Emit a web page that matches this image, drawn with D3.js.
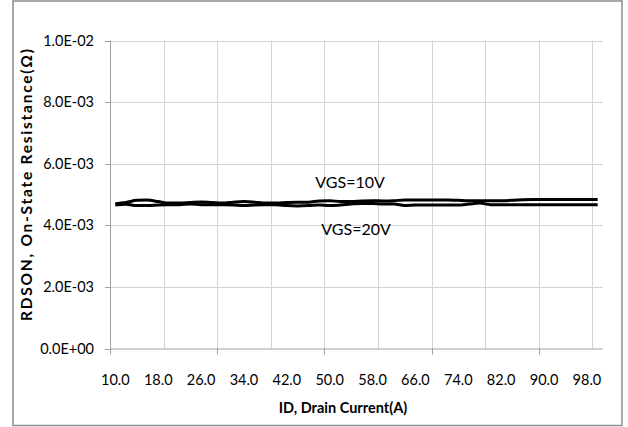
<!DOCTYPE html>
<html>
<head>
<meta charset="utf-8">
<script src="https://cdn.jsdelivr.net/npm/d3@7"></script>
<style>
  html, body { margin: 0; padding: 0; background: #fff; }
  svg { display: block; }
  text { font-family: Lato, "Open Sans", sans-serif; fill: #000; }
</style>
</head>
<body>
<svg id="chart" width="628" height="427"></svg>
<script>
// ---- data ----
const currents = [10,12,14,16,18,20,22,24,26,28,30,32,34,36,38,40,42,44,46,48,50,52,54,56,58,60,62,64,66,68,70,72,74,76,78,80,82,84,86,88,90,92,94,96,98,100];
const rdsonVgs10 = [4.70e-3,4.74e-3,4.81e-3,4.82e-3,4.77e-3,4.72e-3,4.72e-3,4.74e-3,4.76e-3,4.74e-3,
                    4.72e-3,4.75e-3,4.77e-3,4.75e-3,4.72e-3,4.72e-3,4.74e-3,4.75e-3,4.75e-3,4.79e-3,
                    4.80e-3,4.77e-3,4.77e-3,4.79e-3,4.80e-3,4.79e-3,4.80e-3,4.82e-3,4.82e-3,4.82e-3,
                    4.82e-3,4.82e-3,4.81e-3,4.80e-3,4.80e-3,4.80e-3,4.80e-3,4.81e-3,4.83e-3,4.84e-3,
                    4.84e-3,4.84e-3,4.84e-3,4.84e-3,4.84e-3,4.84e-3];
const rdsonVgs20 = [4.66e-3,4.68e-3,4.64e-3,4.64e-3,4.66e-3,4.67e-3,4.67e-3,4.69e-3,4.67e-3,4.67e-3,
                    4.67e-3,4.66e-3,4.64e-3,4.66e-3,4.67e-3,4.67e-3,4.64e-3,4.63e-3,4.64e-3,4.66e-3,
                    4.64e-3,4.66e-3,4.69e-3,4.71e-3,4.71e-3,4.69e-3,4.69e-3,4.64e-3,4.66e-3,4.66e-3,
                    4.66e-3,4.66e-3,4.66e-3,4.69e-3,4.72e-3,4.67e-3,4.67e-3,4.67e-3,4.67e-3,4.67e-3,
                    4.67e-3,4.67e-3,4.67e-3,4.67e-3,4.67e-3,4.67e-3];
const yTicks = [0, 0.002, 0.004, 0.006, 0.008, 0.010];
const yTickLabels = ["0.0E+00","2.0E-03","4.0E-03","6.0E-03","8.0E-03","1.0E-02"];
const xTickLabels = ["10.0","18.0","26.0","34.0","42.0","50.0","58.0","66.0","74.0","82.0","90.0","98.0"];
const seriesNames = ["VGS=10V","VGS=20V"];
const xTitle = "ID, Drain Current(A)";
const yTitle = "RDSON, On-State Resistance(Ω)";

// ---- layout ----
const W = 628, H = 427;
const plot = { left: 110, right: 603, top: 40.5, bottom: 348.5 };
const svg = d3.select("#chart");

svg.append("rect").attr("x", 0).attr("y", 0).attr("width", W).attr("height", H).attr("fill", "#fff");
svg.append("rect").attr("x", 13).attr("y", 1).attr("width", 609).attr("height", 424.5)
   .attr("fill", "none").attr("stroke", "#8c8c8c").attr("stroke-width", 1.5);

const x = d3.scaleBand().domain(currents).range([plot.left, plot.right]).paddingInner(0).paddingOuter(0);
const y = d3.scaleLinear().domain([0, 0.01]).range([plot.bottom, plot.top]);
const cx = d => x(d) + x.bandwidth() / 2;
const boundary = i => plot.left + i * x.step();

// horizontal gridlines
svg.append("g").selectAll("line").data(yTicks.filter(t => t > 0)).join("line")
   .attr("x1", plot.left).attr("x2", plot.right)
   .attr("y1", d => Math.round(y(d)) + 0.5).attr("y2", d => Math.round(y(d)) + 0.5)
   .attr("stroke", "#d4d4d4").attr("stroke-width", 1);

// vertical gridlines every 5 categories
const vgrid = d3.range(5, currents.length, 5);
svg.append("g").selectAll("line").data(vgrid).join("line")
   .attr("x1", d => Math.round(boundary(d)) + 0.5).attr("x2", d => Math.round(boundary(d)) + 0.5)
   .attr("y1", plot.top).attr("y2", plot.bottom)
   .attr("stroke", "#d4d4d4").attr("stroke-width", 1);

// axes lines
svg.append("line").attr("x1", plot.left + 0.5).attr("x2", plot.left + 0.5)
   .attr("y1", plot.top).attr("y2", plot.bottom).attr("stroke", "#a0a0a0");
svg.append("line").attr("x1", plot.left).attr("x2", plot.right)
   .attr("y1", plot.bottom + 0.5).attr("y2", plot.bottom + 0.5).attr("stroke", "#a0a0a0");

// y ticks + labels
svg.append("g").selectAll("line").data(yTicks).join("line")
   .attr("x1", plot.left - 5).attr("x2", plot.left)
   .attr("y1", d => Math.round(y(d)) + 0.5).attr("y2", d => Math.round(y(d)) + 0.5)
   .attr("stroke", "#a0a0a0");
svg.append("g").selectAll("text").data(yTicks).join("text")
   .attr("x", 94).attr("y", d => y(d)).attr("dy", "0.35em")
   .attr("text-anchor", "end").attr("font-size", 14.5)
   .text((d, i) => yTickLabels[i]);

// x ticks every 10 categories
const xTickIdx = d3.range(0, currents.length, 10);
svg.append("g").selectAll("line").data(xTickIdx).join("line")
   .attr("x1", d => Math.round(boundary(d)) + 0.5).attr("x2", d => Math.round(boundary(d)) + 0.5)
   .attr("y1", plot.bottom).attr("y2", plot.bottom + 6)
   .attr("stroke", "#a0a0a0");
// x labels every 4 categories
const xLabelIdx = d3.range(0, currents.length, 4);
svg.append("g").selectAll("text").data(xLabelIdx).join("text")
   .attr("x", d => cx(currents[d])).attr("y", 380).attr("dy", "0.35em")
   .attr("text-anchor", "middle").attr("font-size", 14.5)
   .text((d, i) => xTickLabels[i]);

// titles
svg.append("text").attr("x", 343).attr("y", 408).attr("dy", "0.35em")
   .attr("text-anchor", "middle").attr("font-size", 14.5).attr("font-weight", "bold")
   .text(xTitle);
svg.append("text").attr("transform", "translate(27,185) rotate(-90)").attr("dy", "0.35em")
   .attr("text-anchor", "middle").attr("font-size", 15.5).attr("font-weight", "bold")
   .attr("textLength", 272).attr("lengthAdjust", "spacing")
   .text(yTitle);

// lines
const line = d3.line().x((d, i) => cx(currents[i])).y(d => y(d)).curve(d3.curveMonotoneX);
[rdsonVgs20, rdsonVgs10].forEach(s => {
  svg.append("path").datum(s).attr("d", line)
     .attr("fill", "none").attr("stroke", "#000").attr("stroke-width", 3)
     .attr("stroke-linejoin", "round");
});

// series annotations
svg.append("text").attr("x", cx(54) - 1).attr("y", y(0.00521))
   .attr("text-anchor", "middle").attr("font-size", 16).text(seriesNames[0]);
svg.append("text").attr("x", cx(54) + 5).attr("y", y(0.00368))
   .attr("text-anchor", "middle").attr("font-size", 16).text(seriesNames[1]);
</script>
</body>
</html>
